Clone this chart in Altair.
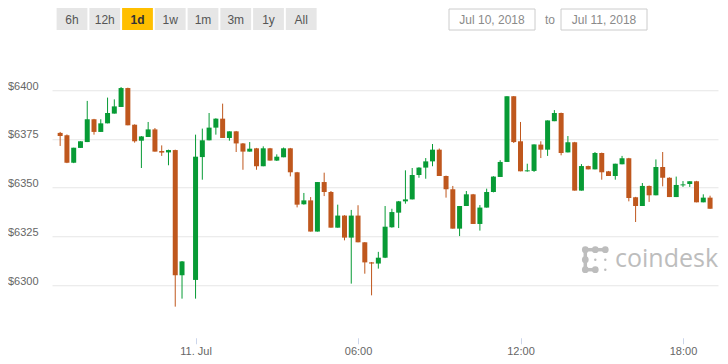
import altair as alt
import pandas as pd

# ---- data (15-minute candles, 10-11 Jul 2018, UTC); the 23:45 candle is absent in the source
day10_times = ["19:00", "19:15", "19:30", "19:45", "20:00", "20:15", "20:30", "20:45",
               "21:00", "21:15", "21:30", "21:45", "22:00", "22:15", "22:30", "22:45",
               "23:00", "23:15", "23:30"]
day11_times = ["00:00", "00:15", "00:30", "00:45", "01:00", "01:15", "01:30", "01:45",
               "02:00", "02:15", "02:30", "02:45", "03:00", "03:15", "03:30", "03:45",
               "04:00", "04:15", "04:30", "04:45", "05:00", "05:15", "05:30", "05:45",
               "06:00", "06:15", "06:30", "06:45", "07:00", "07:15", "07:30", "07:45",
               "08:00", "08:15", "08:30", "08:45", "09:00", "09:15", "09:30", "09:45",
               "10:00", "10:15", "10:30", "10:45", "11:00", "11:15", "11:30", "11:45",
               "12:00", "12:15", "12:30", "12:45", "13:00", "13:15", "13:30", "13:45",
               "14:00", "14:15", "14:30", "14:45", "15:00", "15:15", "15:30", "15:45",
               "16:00", "16:15", "16:30", "16:45", "17:00", "17:15", "17:30", "17:45",
               "18:00", "18:15", "18:30", "18:45", "19:00"]

opens = [6378.0, 6376.8, 6362.7, 6370.3, 6373.3, 6385.0, 6378.5, 6382.9, 6387.9, 6391.3,
         6401.0, 6382.2, 6374.0, 6375.9, 6379.8, 6368.7, 6368.0, 6369.2, 6305.0,
         6302.6, 6365.6, 6374.2, 6380.7, 6385.3, 6375.4, 6378.8, 6372.6, 6368.4, 6370.1,
         6360.9, 6370.1, 6363.8, 6365.5, 6370.1, 6357.8, 6341.4, 6343.4, 6327.4, 6352.8,
         6347.7, 6329.4, 6335.6, 6324.3, 6335.6, 6321.9, 6311.6, 6311.0, 6314.0, 6329.6,
         6337.1, 6342.9, 6343.9, 6356.4, 6360.2, 6363.4, 6369.4, 6355.9, 6349.1, 6328.9,
         6340.5, 6346.5, 6331.3, 6339.7, 6347.7, 6355.4, 6363.1, 6396.8, 6373.7, 6358.3,
         6358.5, 6372.0, 6369.4, 6384.0, 6388.2, 6368.0, 6373.2, 6348.4, 6361.0, 6359.3,
         6367.7, 6358.3, 6355.9, 6361.9, 6365.0, 6345.0, 6340.5, 6350.8, 6346.0, 6360.5,
         6355.0, 6345.1, 6351.1, 6351.8, 6353.2, 6342.4, 6344.8]
highs = [6378.5, 6377.2, 6370.4, 6373.7, 6394.4, 6385.2, 6385.0, 6396.1, 6395.2, 6401.5,
         6401.2, 6382.4, 6376.4, 6383.6, 6380.5, 6371.6, 6369.4, 6369.4, 6312.3,
         6377.1, 6380.2, 6388.2, 6385.5, 6393.0, 6378.8, 6379.0, 6372.8, 6373.3, 6370.3,
         6371.1, 6370.3, 6367.0, 6370.5, 6370.3, 6358.0, 6347.2, 6345.1, 6352.8, 6357.6,
         6348.2, 6341.2, 6335.8, 6338.5, 6340.9, 6322.0, 6311.8, 6317.0, 6340.5, 6339.1,
         6343.1, 6358.8, 6360.0, 6360.4, 6365.1, 6372.3, 6370.0, 6356.1, 6350.8, 6340.5,
         6348.2, 6346.7, 6341.0, 6349.4, 6355.8, 6364.0, 6396.8, 6396.9, 6383.6, 6362.2,
         6372.1, 6373.7, 6384.4, 6389.7, 6388.4, 6376.4, 6373.4, 6362.0, 6361.2, 6368.2,
         6367.9, 6358.5, 6362.2, 6366.2, 6365.2, 6345.2, 6352.3, 6351.0, 6364.4, 6368.2,
         6355.2, 6355.6, 6353.3, 6353.2, 6353.4, 6346.5, 6345.8]
lows = [6371.3, 6362.5, 6362.5, 6370.3, 6373.3, 6377.1, 6378.5, 6382.9, 6387.9, 6391.3,
        6381.9, 6373.0, 6360.0, 6375.9, 6368.4, 6366.2, 6361.4, 6288.9, 6293.0,
        6293.0, 6354.0, 6374.2, 6377.1, 6375.4, 6374.0, 6368.2, 6359.1, 6368.4, 6359.1,
        6360.9, 6363.8, 6363.6, 6365.5, 6355.7, 6339.8, 6341.2, 6327.4, 6327.4, 6345.6,
        6329.4, 6329.4, 6322.9, 6300.7, 6321.9, 6305.8, 6294.7, 6308.4, 6313.8, 6329.4,
        6329.2, 6341.7, 6343.9, 6355.0, 6354.5, 6360.9, 6355.9, 6344.8, 6328.9, 6325.1,
        6340.5, 6331.3, 6327.9, 6339.7, 6347.5, 6355.4, 6363.1, 6372.8, 6358.3, 6358.1,
        6358.0, 6365.1, 6366.2, 6384.0, 6366.5, 6368.0, 6348.4, 6348.4, 6359.3, 6359.3,
        6354.0, 6355.9, 6354.0, 6361.9, 6342.9, 6332.3, 6340.5, 6342.6, 6346.0, 6350.6,
        6345.1, 6345.1, 6350.3, 6350.3, 6342.4, 6342.4, 6339.1]
closes = [6376.4, 6362.7, 6370.4, 6373.7, 6385.0, 6378.5, 6382.9, 6388.2, 6391.6, 6401.0,
          6381.9, 6373.7, 6376.2, 6379.8, 6368.4, 6367.9, 6369.2, 6305.0, 6312.1,
          6365.8, 6374.2, 6380.7, 6385.3, 6375.4, 6378.8, 6372.6, 6368.4, 6369.9, 6360.9,
          6370.1, 6363.8, 6365.8, 6370.1, 6357.8, 6341.2, 6343.4, 6327.4, 6352.8, 6347.7,
          6329.4, 6335.6, 6324.3, 6335.6, 6321.9, 6311.6, 6311.0, 6314.0, 6329.9, 6337.4,
          6342.9, 6343.9, 6356.4, 6360.2, 6363.4, 6369.4, 6355.9, 6349.1, 6328.9, 6340.5,
          6346.5, 6331.3, 6339.7, 6347.7, 6355.6, 6363.1, 6396.8, 6373.3, 6358.3, 6358.8,
          6372.1, 6369.4, 6384.4, 6388.2, 6367.7, 6373.2, 6348.4, 6361.0, 6359.3, 6367.7,
          6357.8, 6355.9, 6362.2, 6365.0, 6344.6, 6340.5, 6350.8, 6346.0, 6360.5, 6355.0,
          6345.1, 6351.3, 6351.6, 6353.2, 6342.4, 6344.8, 6339.1]

y_ticks = [6300, 6325, 6350, 6375, 6400]
x_tick_times = ["2018-07-11T00:00:00Z", "2018-07-11T06:00:00Z",
                "2018-07-11T12:00:00Z", "2018-07-11T18:00:00Z"]
range_buttons = ["6h", "12h", "1d", "1w", "1m", "3m", "1y", "All"]
selected_button = "1d"
date_from, date_to = "Jul 10, 2018", "Jul 11, 2018"

times = ["2018-07-10T%s:00Z" % t for t in day10_times] + \
        ["2018-07-11T%s:00Z" % t for t in day11_times]
assert len(times) == len(opens) == len(highs) == len(lows) == len(closes)

df = pd.DataFrame({"time": times, "open": opens, "high": highs,
                   "low": lows, "close": closes})

GREEN = "#079b35"
ORANGE = "#bf571d"

# layout (plot area in page pixels: left 52, top 41.25)
PL, PT = 52.0, 41.25
W, H = 666, 292.5
FONT = "Liberation Sans"


def ms(s):
    return int(pd.Timestamp(s).value // 10**6)


x_dom = [ms("2018-07-10T18:53:00Z"), ms("2018-07-11T19:06:30Z")]

x_enc = alt.X(
    "time:T",
    scale=alt.Scale(type="utc", domain=x_dom),
    axis=alt.Axis(
        values=[ms(t) for t in x_tick_times],
        labelExpr="utcFormat(datum.value, '%H:%M') == '00:00' ? '11. Jul' : utcFormat(datum.value, '%H:%M')",
        grid=False, domain=False, tickColor="#ccd6eb", tickSize=6, offset=4,
        labelPadding=2, labelColor="#666666", labelFontSize=11, labelFont=FONT,
        title=None,
    ),
)
y_scale = alt.Scale(domain=[6275, 6425], zero=False, nice=False)

color = alt.condition("datum.close >= datum.open", alt.value(GREEN), alt.value(ORANGE))

base = alt.Chart(df)
wicks = base.mark_rule(strokeWidth=1).encode(
    x=x_enc,
    y=alt.Y("low:Q", scale=y_scale,
            axis=alt.Axis(values=y_ticks, labelExpr="'$' + datum.value", grid=True,
                          gridColor="#e6e6e6", domain=False, ticks=False, tickSize=0,
                          labelPadding=14, labelColor="#666666", labelFontSize=11,
                          labelFont=FONT, labelOffset=-4, title=None)),
    y2="high:Q",
    color=color,
)
bodies = base.mark_bar(size=5).encode(
    x="time:T",
    y="open:Q",
    y2="close:Q",
    color=color,
)

one = alt.Data(values=[{}])


def P(x, y):
    return x - PL, y - PT


deco = []
# range buttons
for i, lab in enumerate(range_buttons):
    x0 = 56.6 + i * 32.75
    x1 = x0 + 30.8
    sel = lab == selected_button
    a, b = P(x0, 8)
    c, d = P(x1, 30)
    deco.append(alt.Chart(one).mark_rect(color="#ffbf00" if sel else "#e6e6e6").encode(
        x=alt.value(a), x2=alt.value(c), y=alt.value(b), y2=alt.value(d)))
    tx, ty = P((x0 + x1) / 2, 19.5)
    deco.append(alt.Chart(one).mark_text(
        text=lab, font=FONT, fontSize=12, fontWeight="bold" if sel else "normal",
        color="#333333" if sel else "#555555", align="center", baseline="middle").encode(
        x=alt.value(tx), y=alt.value(ty)))

# date boxes
for (x0, x1, lab) in [(449, 535, date_from), (561, 647, date_to)]:
    a, b = P(x0, 9)
    c, d = P(x1, 30)
    deco.append(alt.Chart(one).mark_rect(fill="#ffffff", stroke="#cccccc", strokeWidth=1).encode(
        x=alt.value(a), x2=alt.value(c), y=alt.value(b), y2=alt.value(d)))
    tx, ty = P((x0 + x1) / 2, 19.5)
    deco.append(alt.Chart(one).mark_text(
        text=lab, font=FONT, fontSize=12, color="#8a8a8a", align="center",
        baseline="middle").encode(x=alt.value(tx), y=alt.value(ty)))
tx, ty = P(550, 19.5)
deco.append(alt.Chart(one).mark_text(
    text="to", font=FONT, fontSize=12, color="#8a8a8a", align="center",
    baseline="middle").encode(x=alt.value(tx), y=alt.value(ty)))

# coindesk watermark
LOGO = "#bdbdbd"
gx, gy, gs = 585.3, 249.7, 10.0
for (i0, j0, i1, j1) in [(0, 0, 2, 0), (0, 0, 0, 2), (0, 2, 1, 2)]:
    a, b = P(gx + i0 * gs, gy + j0 * gs)
    c, d = P(gx + i1 * gs, gy + j1 * gs)
    deco.append(alt.Chart(one).mark_rule(color=LOGO, strokeWidth=3.5).encode(
        x=alt.value(a), x2=alt.value(c), y=alt.value(b), y2=alt.value(d)))
for (i, j, s) in [(0, 0, 45), (1, 0, 45), (2, 0, 45), (0, 1, 45), (0, 2, 45), (1, 2, 45),
                  (1, 1, 6), (2, 1, 6), (2, 2, 6)]:
    a, b = P(gx + i * gs, gy + j * gs)
    deco.append(alt.Chart(one).mark_circle(color=LOGO, size=s, opacity=1).encode(
        x=alt.value(a), y=alt.value(b)))
tx, ty = P(615, 267)
deco.append(alt.Chart(one).mark_text(
    text="coindesk", font="Open Sans", fontSize=25, color=LOGO, align="left",
    baseline="alphabetic").encode(x=alt.value(tx), y=alt.value(ty)))

chart = alt.layer(wicks, bodies, *deco).properties(
    width=W, height=H,
    background="#ffffff",
    autosize=alt.AutoSizeParams(type="none"),
    padding={"left": PL - 8, "top": PT - 8, "right": 2, "bottom": 356 - (PT - 8) - H},
).configure_view(strokeWidth=0, stroke="transparent")

chart.save("out.html", embed_options={"renderer": "svg", "actions": False})
